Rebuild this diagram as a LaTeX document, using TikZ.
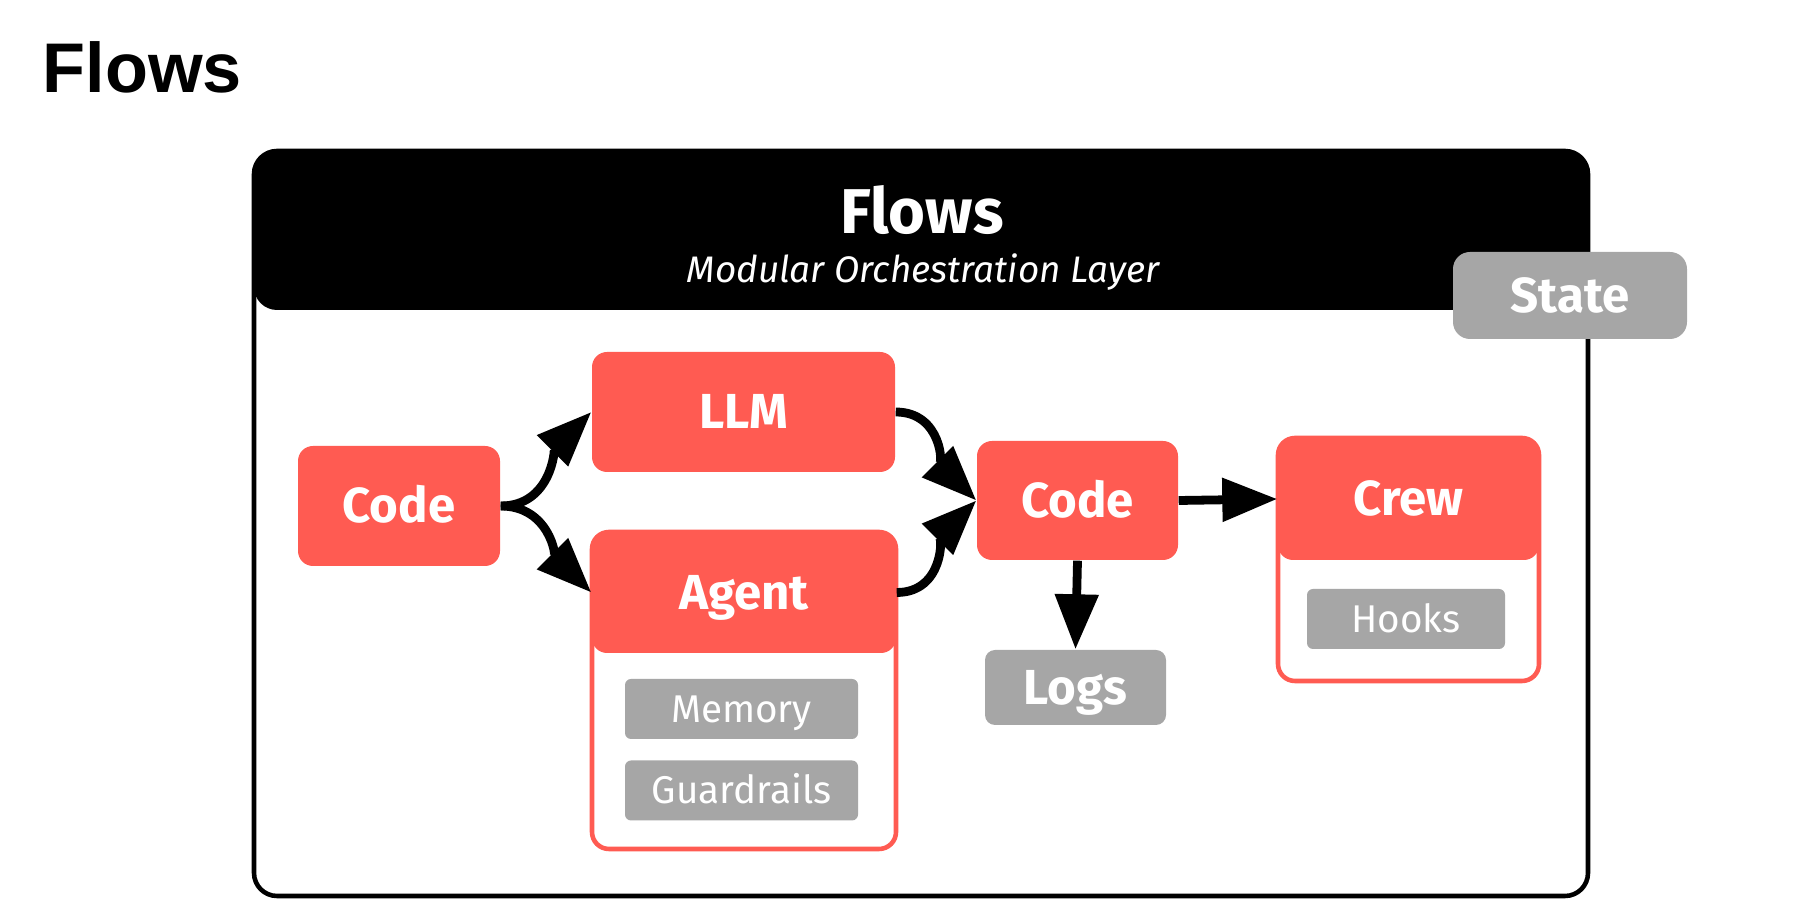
\documentclass[tikz,border=0pt]{standalone}
\usepackage{fontspec}
\setmainfont{Fira Sans}
\newfontfamily\titlefont{Liberation Sans}
\usepackage{xcolor}
\definecolor{flowred}{RGB}{255,91,82}
\definecolor{flowgray}{RGB}{166,166,166}
\usetikzlibrary{arrows.meta,positioning}

\begin{document}
\begin{tikzpicture}[
  redbox/.style={fill=flowred, rounded corners=0.15cm, inner sep=0pt, text=white, text height=9.6pt, text depth=0pt, font=\fontsize{14}{16}\selectfont\bfseries},
  graybox/.style={fill=flowgray, rounded corners=0.17cm, inner sep=0pt, text=white, text height=9.6pt, text depth=0pt, font=\fontsize{14}{16}\selectfont\bfseries},
  subbox/.style={fill=flowgray, rounded corners=0.06cm, inner sep=0pt, text=white, text height=7.6pt, text depth=0pt, minimum width=2.33cm, minimum height=0.6cm, font=\fontsize{11}{13}\selectfont},
  holder/.style={draw=flowred, line width=1.3pt, fill=white, rounded corners=0.17cm, inner sep=0pt},
  flowarrow/.style={line width=2.5pt, -{Triangle[length=0.55cm,width=0.42cm]}}
]
  \useasboundingbox (0,0) rectangle (18.18,9.15);
  \node[font=\titlefont\fontsize{20}{24}\selectfont\bfseries, anchor=base west, inner sep=0pt] (title) at (0.42,8.22) {Flows};
  \node[fill=black, rounded corners=0.23cm, minimum width=13.34cm, minimum height=1.59cm, inner sep=0pt] (hdr) at (9.21,6.845) {};
  \node[draw, line width=1.3pt, rounded corners=0.23cm, minimum width=13.34cm, minimum height=7.45cm, inner sep=0pt] (flows) at (9.21,3.915) {};
  \node[text=white, font=\fontsize{18}{20}\selectfont\bfseries, anchor=base, inner sep=0pt] (hdrtitle) at (9.22,6.81) {Flows};
  \node[text=white, font=\fontsize{10.5}{12}\selectfont\itshape, anchor=base, inner sep=0pt] (hdrsub) at (9.23,6.32) {Modular Orchestration Layer};
  \node[graybox, minimum width=2.34cm, minimum height=0.87cm] (state) at (15.70,6.195) {State};
  \node[redbox, minimum width=2.02cm, minimum height=1.2cm] (code) at (3.99,4.09) {Code};
  \node[redbox, minimum width=3.03cm, minimum height=1.2cm] (llm) at (7.435,5.03) {LLM};
  \node[holder, minimum width=3.04cm, minimum height=3.17cm] (agentbox) at (7.44,2.245) {};
  \node[redbox, minimum width=3.04cm, minimum height=1.21cm] (agent) at (7.44,3.225) {Agent};
  \node[subbox] (memory) at (7.415,2.06) {Memory};
  \node[subbox] (guard) at (7.415,1.245) {Guardrails};
  \node[redbox, minimum width=2.01cm, minimum height=1.19cm] (code2) at (10.775,4.145) {Code};
  \node[graybox, rounded corners=0.1cm, minimum width=1.81cm, minimum height=0.75cm] (logs) at (10.755,2.275) {Logs};
  \node[holder, minimum width=2.61cm, minimum height=2.43cm] (crewbox) at (14.085,3.555) {};
  \node[redbox, minimum width=2.61cm, minimum height=1.22cm] (crew) at (14.085,4.16) {Crew};
  \node[subbox, minimum width=1.98cm] (hooks) at (14.06,2.96) {Hooks};
  \draw[flowarrow] (code.east) to[out=0,in=225] (llm.west);
  \draw[flowarrow] (code.east) to[out=0,in=135] (agent.west);
  \draw[flowarrow] (llm.east) to[out=0,in=135] (code2.west);
  \draw[flowarrow] (agent.east) to[out=0,in=225] (code2.west);
  \draw[flowarrow] (code2.east) -- (crew.west);
  \draw[flowarrow] (code2.south) -- (logs.north);
\end{tikzpicture}
\end{document}
